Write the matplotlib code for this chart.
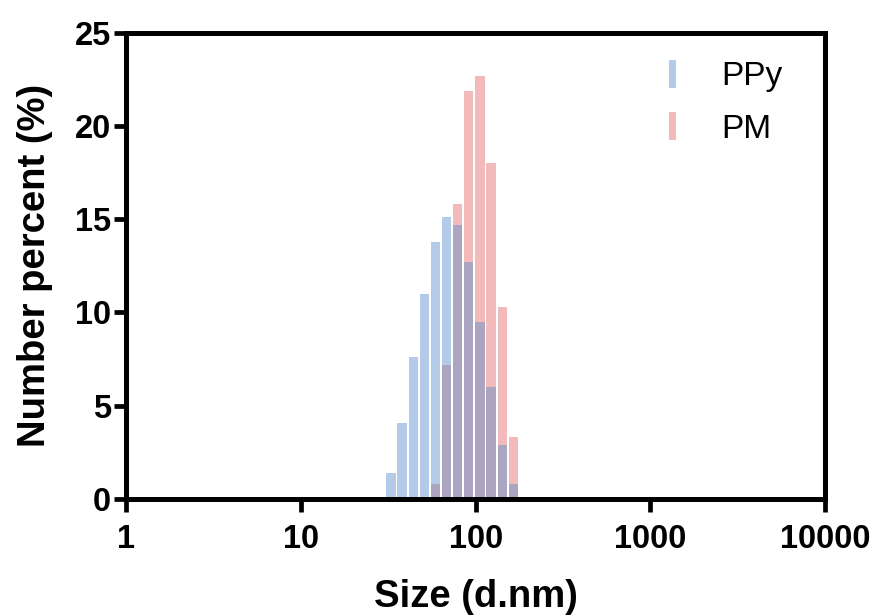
import numpy as np
import matplotlib
matplotlib.use("Agg")
import matplotlib.pyplot as plt
from matplotlib.patches import Patch

sizes = [32.67, 37.84, 43.82, 50.75, 58.77, 68.06, 78.82, 91.28, 105.7, 122.4, 141.8, 164.2]
ppy = [1.4, 4.1, 7.6, 11.0, 13.8, 15.1, 14.7, 12.7, 9.5, 6.0, 2.9, 0.8]
pm = [0.0, 0.0, 0.0, 0.0, 0.8, 7.2, 15.8, 21.9, 22.7, 18.0, 10.3, 3.3]
xticks = [1, 10, 100, 1000, 10000]
xticklabels = ["1", "10", "100", "1000", "10000"]
yticks = [0, 5, 10, 15, 20, 25]

W, H = 878, 616
fig = plt.figure(figsize=(W / 100, H / 100), dpi=100)
ax = fig.add_axes([126.5 / W, 1 - 499 / H, (825 - 126.5) / W, (499 - 32.7) / H])

step = np.log10(sizes[1] / sizes[0])
frac = 0.83
lefts = [10 ** (np.log10(s) - step * frac / 2) for s in sizes]
widths = [10 ** (np.log10(s) + step * frac / 2) - l for s, l in zip(sizes, lefts)]

blue = (87/255, 140/255, 204/255)
red = (227/255, 102/255, 102/255)
ax.bar(lefts, pm, width=widths, align="edge", color=red, alpha=0.45, linewidth=0, label="PM")
ax.bar(lefts, ppy, width=widths, align="edge", color=blue, alpha=0.45, linewidth=0, label="PPy")

ax.set_xscale("log")
ax.set_xlim(1, 10000)
ax.set_ylim(0, 25)
ax.set_xticks(xticks)
ax.set_xticklabels(xticklabels)
ax.xaxis.set_minor_locator(matplotlib.ticker.NullLocator())
ax.set_yticks(yticks)

fam = ["Liberation Sans", "DejaVu Sans"]
for lab in ax.get_xticklabels() + ax.get_yticklabels():
    lab.set_fontfamily(fam)
    lab.set_fontweight("bold")
    lab.set_fontsize(23.5)

for sp in ax.spines.values():
    sp.set_linewidth(3.6)
ax.tick_params(axis="both", which="major", direction="out", length=9, width=3.4)
ax.tick_params(axis="x", pad=9)
ax.tick_params(axis="y", pad=2)

labfont = dict(family=fam, weight="bold", size=27.5)
ax.set_xlabel("Size (d.nm)", labelpad=17, **labfont)
ax.set_ylabel("Number percent (%)", labelpad=16, **labfont)

handles = [Patch(color=blue, alpha=0.45, linewidth=0),
           Patch(color=red, alpha=0.45, linewidth=0)]
leg = ax.legend(handles, ["PPy", "PM"], loc="upper left", frameon=False,
                bbox_to_anchor=(669 / W, 1 - 60 / H), bbox_transform=fig.transFigure,
                handlelength=0.21, handleheight=0.9, handletextpad=1.35,
                labelspacing=0.6, borderaxespad=0, borderpad=0,
                prop=dict(family=fam, size=24))

fig.savefig("out.png", dpi=100)
